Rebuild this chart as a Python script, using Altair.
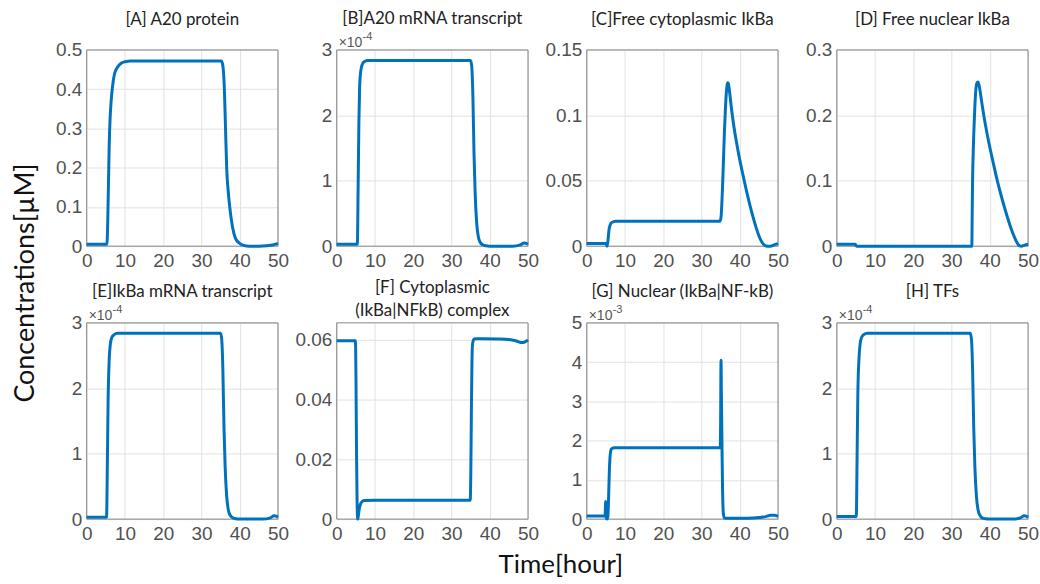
import altair as alt
import pandas as pd

BLUE = "#0072BD"

TITLES = [
    "[A] A20 protein",
    "[B]A20 mRNA transcript",
    "[C]Free cytoplasmic IkBa",
    "[D] Free nuclear IkBa",
    "[E]IkBa mRNA transcript",
    "[F] Cytoplasmic\n(IkBa|NFkB) complex",
    "[G] Nuclear (IkBa|NF-kB)",
    "[H] TFs",
]
EXPONENTS = ["", "-4", "", "", "-4", "", "-3", "-4"]
Y_DOMAINS = [[0, 0.5], [0, 3], [0, 0.1500001], [0, 0.3], [0, 3], [0, 0.0657], [0, 5], [0, 3]]
Y_TICKS = [
    [0, 0.1, 0.2, 0.3, 0.4, 0.5],
    [0, 1, 2, 3],
    [0, 0.05, 0.1, 0.15],
    [0, 0.1, 0.2, 0.3],
    [0, 1, 2, 3],
    [0, 0.02, 0.04, 0.06],
    [0, 1, 2, 3, 4, 5],
    [0, 1, 2, 3],
]
X_TICKS = [0, 10, 20, 30, 40, 50]
Y_LABEL = "Concentrations[µM]"
X_LABEL = "Time[hour]"

# [A] A20 protein
A_T = [0, 2, 4, 5.3, 5.5, 5.7, 5.9, 6.1, 6.4, 6.8, 7.3, 8.0, 9.0, 10.0, 11.5, 20, 30, 35.2, 35.5, 35.8,
       36.0, 36.3, 36.6, 37.0, 37.4, 38.1, 38.9, 40.0, 41.0, 42.5, 45, 47, 49, 50]
A_Y = [0.005, 0.005, 0.005, 0.005, 0.06, 0.16, 0.26, 0.32, 0.37, 0.41, 0.44, 0.455, 0.466, 0.47, 0.472,
       0.472, 0.472, 0.472, 0.465, 0.44, 0.40, 0.30, 0.20, 0.14, 0.10, 0.05, 0.02, 0.007, 0.002, 0.0,
       0.0, 0.001, 0.004, 0.007]
# [B] A20 mRNA (x1e-4)
B_T = [0, 2, 4, 5.4, 5.6, 5.8, 6.0, 6.3, 6.7, 7.2, 8.0, 10, 20, 30, 35.0, 35.3, 35.6, 35.9, 36.2, 36.6,
       37.0, 37.5, 38.2, 39.0, 40, 43, 46, 48, 49, 50]
B_Y = [0.03, 0.03, 0.03, 0.03, 0.9, 1.9, 2.45, 2.68, 2.78, 2.82, 2.84, 2.84, 2.84, 2.84, 2.84, 2.75, 2.3,
       1.4, 0.8, 0.35, 0.15, 0.06, 0.02, 0.005, 0.0, 0.0, 0.0, 0.02, 0.05, 0.03]
# [C] Free cytoplasmic IkBa
C_T = [0, 2, 4, 5.0, 5.3, 5.5, 5.8, 6.1, 6.5, 7.5, 10, 20, 30, 34.8, 35.1, 35.4, 35.7, 36.0, 36.3, 36.6,
       36.8, 37.0, 37.2, 37.5, 37.8, 38.2, 38.7, 39.3, 40.0, 40.8, 41.7, 42.6, 43.5, 44.3, 45.0, 45.8,
       46.6, 47.2, 48.0, 49.0, 50]
C_Y = [0.002, 0.002, 0.002, 0.002, 0.0, 0.003, 0.012, 0.016, 0.018, 0.019, 0.019, 0.019, 0.019, 0.019,
       0.022, 0.038, 0.062, 0.088, 0.108, 0.121, 0.125, 0.1245, 0.121, 0.114, 0.106, 0.097, 0.087, 0.077,
       0.066, 0.055, 0.043, 0.032, 0.022, 0.014, 0.008, 0.003, 0.0005, 0.0, 0.0, 0.001, 0.002]
# [D] Free nuclear IkBa
D_T = [0, 2, 4.8, 5.2, 6, 10, 20, 30, 35.3, 35.4, 35.5, 35.7, 36.0, 36.3, 36.6, 36.9, 37.2, 37.6, 38.0,
       38.4, 39.0, 39.8, 40.8, 41.8, 42.9, 44.0, 45.0, 46.0, 46.8, 47.5, 48.2, 49.3, 50]
D_Y = [0.003, 0.003, 0.003, 0.0, 0.0, 0.0, 0.0, 0.0, 0.0, 0.05, 0.1, 0.15, 0.2, 0.235, 0.249, 0.251,
       0.246, 0.232, 0.216, 0.201, 0.181, 0.157, 0.130, 0.104, 0.079, 0.056, 0.037, 0.020, 0.009, 0.002,
       0.0, 0.002, 0.003]
# [E] IkBa mRNA (x1e-4)
E_T = [0, 2, 4, 5.2, 5.4, 5.6, 5.9, 6.2, 6.6, 7.2, 8.0, 10, 20, 30, 35.0, 35.3, 35.6, 35.9, 36.2, 36.6,
       37.0, 37.5, 38.2, 39, 40, 43, 46, 48, 49, 50]
E_Y = [0.03, 0.03, 0.03, 0.03, 0.8, 1.8, 2.45, 2.68, 2.78, 2.82, 2.84, 2.84, 2.84, 2.84, 2.84, 2.75, 2.3,
       1.4, 0.8, 0.35, 0.15, 0.06, 0.02, 0.005, 0.0, 0.0, 0.0, 0.02, 0.05, 0.03]
# [F] Cytoplasmic complex
F_T = [0, 2, 4, 4.9, 5.05, 5.2, 5.35, 5.5, 5.7, 5.9, 6.2, 6.6, 7.2, 10, 20, 30, 34.9, 35.05, 35.2, 35.35,
       35.5, 35.7, 36.0, 36.5, 38, 42, 45, 46.5, 47.5, 48.3, 49.0, 49.6, 50]
F_Y = [0.0597, 0.0597, 0.0597, 0.0597, 0.045, 0.02, 0.004, 0.0, 0.0015, 0.0035, 0.005, 0.0058, 0.0062,
       0.0063, 0.0063, 0.0063, 0.0063, 0.015, 0.035, 0.052, 0.0585, 0.0598, 0.0603, 0.0604, 0.0604,
       0.0603, 0.0601, 0.0598, 0.0594, 0.0591, 0.0592, 0.0596, 0.0600]
# [G] Nuclear complex (x1e-3)
G_T = [0, 2, 4.8, 4.95, 5.05, 5.15, 5.3, 5.5, 5.7, 5.9, 6.1, 6.3, 6.6, 7.2, 10, 20, 30, 34.9, 35.0, 35.1,
       35.2, 35.35, 35.5, 35.7, 36.0, 36.5, 38, 42, 45, 47, 48, 49, 50]
G_Y = [0.08, 0.08, 0.08, 0.45, 0.1, 0.02, 0.0, 0.05, 0.5, 1.2, 1.6, 1.75, 1.8, 1.82, 1.82, 1.82, 1.82,
       1.82, 2.5, 4.05, 3.2, 1.9, 0.8, 0.15, 0.03, 0.02, 0.02, 0.02, 0.04, 0.07, 0.1, 0.1, 0.07]
# [H] TFs (x1e-4)
H_T = [0, 2, 4, 5.1, 5.3, 5.5, 5.8, 6.1, 6.5, 7.0, 8.0, 10, 20, 30, 34.9, 35.2, 35.5, 35.8, 36.1, 36.5,
       36.9, 37.4, 38.0, 39, 40, 43, 46, 48, 49, 50]
H_Y = [0.04, 0.04, 0.04, 0.04, 0.9, 1.9, 2.45, 2.68, 2.78, 2.82, 2.84, 2.84, 2.84, 2.84, 2.84, 2.75, 2.3,
       1.4, 0.8, 0.35, 0.15, 0.06, 0.02, 0.005, 0.0, 0.0, 0.0, 0.02, 0.05, 0.03]

SERIES = [(A_T, A_Y), (B_T, B_Y), (C_T, C_Y), (D_T, D_Y), (E_T, E_Y), (F_T, F_Y), (G_T, G_Y), (H_T, H_Y)]

W, H = 192, 197
TEXT_FONT = "Lato"
NUM_FONT = "Liberation Sans"


def panel(i):
    t, y = SERIES[i]
    df = pd.DataFrame({"t": t, "y": y})
    ann = pd.DataFrame({"s": [TITLES[i]]})
    x_enc = alt.X("t:Q", scale=alt.Scale(domain=[0, 50], nice=False, zero=False),
                  axis=alt.Axis(values=X_TICKS, title=""))
    y_enc = alt.Y("y:Q", scale=alt.Scale(domain=Y_DOMAINS[i], nice=False, zero=False),
                  axis=alt.Axis(values=Y_TICKS[i], format="~g", title=""))
    box = alt.Chart(ann).mark_rect(filled=False, stroke="#858585", strokeWidth=1).encode(
        x=alt.value(0), x2=alt.value(W), y=alt.value(0), y2=alt.value(H))
    line = alt.Chart(df).mark_line(color=BLUE, strokeWidth=3, interpolate="monotone").encode(x=x_enc, y=y_enc)
    two = "\n" in TITLES[i]
    if two:
        ty = -30
    elif EXPONENTS[i]:
        ty = -26
    else:
        ty = -25
    title = alt.Chart(ann).mark_text(font=TEXT_FONT, fontSize=17, color="#222222", align="center",
                                     baseline="alphabetic", lineBreak="\n", lineHeight=23).encode(
        text="s:N", x=alt.value(W / 2), y=alt.value(ty))
    layers = [box, line, title]
    if EXPONENTS[i]:
        ex = pd.DataFrame({"a": ["×10"], "b": [EXPONENTS[i]]})
        layers.append(alt.Chart(ex).mark_text(font=NUM_FONT, fontSize=14, color="#555555", align="left",
                                              baseline="alphabetic").encode(
            text="a:N", x=alt.value(2), y=alt.value(-3)))
        layers.append(alt.Chart(ex).mark_text(font=NUM_FONT, fontSize=11, color="#555555", align="left",
                                              baseline="alphabetic").encode(
            text="b:N", x=alt.value(26), y=alt.value(-10)))
    if i == 4:
        yl = pd.DataFrame({"s": [Y_LABEL]})
        layers.append(alt.Chart(yl).mark_text(font=TEXT_FONT, fontSize=27, color="#111111", align="center",
                                              baseline="middle", angle=270).encode(
            text="s:N", x=alt.value(-61), y=alt.value(-40)))
    if i == 5:
        xl = pd.DataFrame({"s": [X_LABEL]})
        layers.append(alt.Chart(xl).mark_text(font=TEXT_FONT, fontSize=26, color="#111111", align="center",
                                              baseline="alphabetic").encode(
            text="s:N", x=alt.value(225), y=alt.value(251)))
    return alt.layer(*layers).properties(width=W, height=H)


panels = [panel(i) for i in range(8)]

chart = alt.concat(*panels, columns=4, spacing={"row": 77, "column": 59}, bounds="flush").resolve_scale(
    x="independent", y="independent"
).properties(
    padding={"left": 11, "top": 8, "right": 0, "bottom": 0},
    background="white",
).configure_view(stroke="transparent").configure_axis(
    grid=True, gridColor="#e2e2e2", gridWidth=1, ticks=False, domain=False,
    labelFont=NUM_FONT, labelFontSize=19, labelColor="#505050", labelPadding=5,
    labelFlush=False, labelOverlap=False, labelBound=False,
)

chart.save("out.html", embed_options={"renderer": "svg", "actions": False})
